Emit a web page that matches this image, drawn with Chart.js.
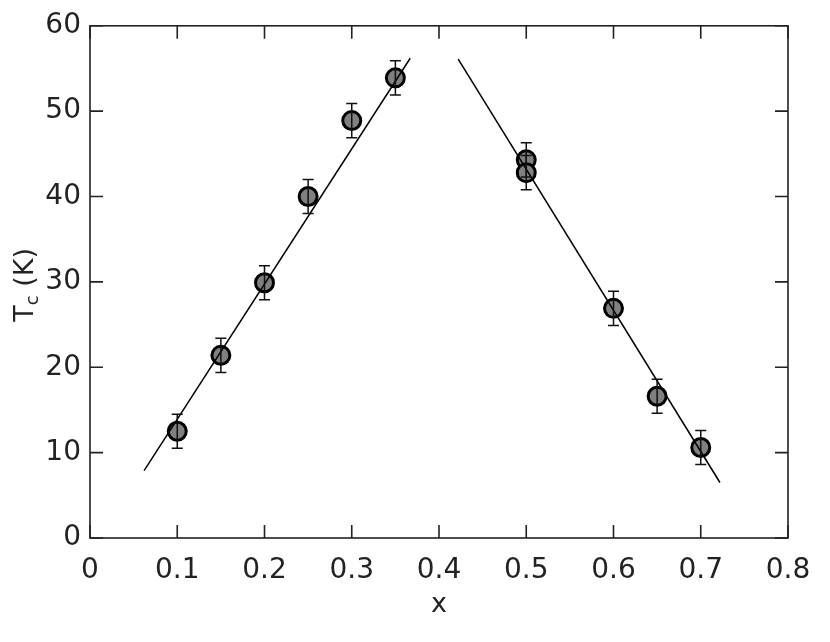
<!DOCTYPE html>
<html>
<head>
<meta charset="utf-8">
<script src="https://cdn.jsdelivr.net/npm/chart.js@4.4.0/dist/chart.umd.min.js"></script>
<style>
html, body { margin: 0; padding: 0; background: #fff; }
#wrap { width: 830px; height: 642px; }
</style>
</head>
<body>
<div id="wrap"><canvas id="tcChart" width="830" height="642"></canvas></div>
<script>
// measured points: doping x and Tc (K), with error bars
const xValues = [0.1, 0.15, 0.2, 0.25, 0.3, 0.35, 0.5, 0.5, 0.6, 0.65, 0.7];
const tcValues = [12.5, 21.4, 29.9, 40.0, 48.9, 53.9, 44.3, 42.8, 26.9, 16.6, 10.6];
const tcErrors = [2, 2, 2, 2, 2, 2, 2, 2, 2, 2, 2];

// straight-line guides, end points only
const leftFitX = [0.062, 0.367];
const leftFitY = [7.9, 56.2];
const rightFitX = [0.422, 0.722];
const rightFitY = [56.1, 6.5];

const xTickLabels = ['0', '0.1', '0.2', '0.3', '0.4', '0.5', '0.6', '0.7', '0.8'];
const yTickLabels = ['0', '10', '20', '30', '40', '50', '60'];

const INK = '#222';
const FONT = 'DejaVu Sans';

function toPoints(xs, ys) {
    return xs.map((x, i) => ({ x: x, y: ys[i] }));
}

/**
 * Error bars, frame, inward ticks and the y title (needs a subscript)
 */
const decorations = {
    id: 'decorations',
    afterDatasetsDraw(chart) {
        const ctx = chart.ctx;
        const xs = chart.scales.x;
        const ys = chart.scales.y;
        const area = chart.chartArea;

        ctx.save();
        ctx.strokeStyle = '#111';
        ctx.lineWidth = 1.5;
        // error bars
        xValues.forEach((x, i) => {
            const px = xs.getPixelForValue(x);
            const top = ys.getPixelForValue(tcValues[i] + tcErrors[i]);
            const bot = ys.getPixelForValue(tcValues[i] - tcErrors[i]);
            ctx.beginPath();
            ctx.moveTo(px, top);
            ctx.lineTo(px, bot);
            ctx.moveTo(px - 5.5, top);
            ctx.lineTo(px + 5.5, top);
            ctx.moveTo(px - 5.5, bot);
            ctx.lineTo(px + 5.5, bot);
            ctx.stroke();
        });

        // frame
        ctx.strokeStyle = INK;
        ctx.lineWidth = 1.6;
        ctx.strokeRect(area.left, area.top, area.right - area.left, area.bottom - area.top);

        // inward ticks on all four sides
        const tickLen = 13;
        ctx.beginPath();
        xs.ticks.forEach(t => {
            const px = xs.getPixelForValue(t.value);
            ctx.moveTo(px, area.bottom);
            ctx.lineTo(px, area.bottom - tickLen);
            ctx.moveTo(px, area.top);
            ctx.lineTo(px, area.top + tickLen);
        });
        ys.ticks.forEach(t => {
            const py = ys.getPixelForValue(t.value);
            ctx.moveTo(area.left, py);
            ctx.lineTo(area.left + tickLen, py);
            ctx.moveTo(area.right, py);
            ctx.lineTo(area.right - tickLen, py);
        });
        ctx.stroke();

        // y title: T_c (K)
        const big = '27px "' + FONT + '"';
        const small = '18px "' + FONT + '"';
        ctx.fillStyle = INK;
        ctx.textBaseline = 'alphabetic';
        ctx.textAlign = 'left';
        ctx.font = big;
        const wT = ctx.measureText('T').width;
        const wK = ctx.measureText(' (K)').width;
        ctx.font = small;
        const wc = ctx.measureText('c').width;
        const total = wT + wc + wK;
        ctx.translate(33, (area.top + area.bottom) / 2 + 3);
        ctx.rotate(-Math.PI / 2);
        let pos = -total / 2;
        ctx.font = big;
        ctx.fillText('T', pos, 0);
        pos += wT;
        ctx.font = small;
        ctx.fillText('c', pos, 5);
        pos += wc;
        ctx.font = big;
        ctx.fillText(' (K)', pos, 0);
        ctx.restore();
    }
};

const ctx = document.getElementById('tcChart');

new Chart(ctx, {
    type: 'scatter',
    data: {
        datasets: [
            {
                label: 'fit left',
                data: toPoints(leftFitX, leftFitY),
                showLine: true,
                borderColor: '#000',
                borderWidth: 1.5,
                pointRadius: 0,
                fill: false,
                order: 0
            },
            {
                label: 'fit right',
                data: toPoints(rightFitX, rightFitY),
                showLine: true,
                borderColor: '#000',
                borderWidth: 1.5,
                pointRadius: 0,
                fill: false,
                order: 0
            },
            {
                label: 'Tc',
                data: toPoints(xValues, tcValues),
                pointRadius: 9,
                pointBorderWidth: 3,
                backgroundColor: '#808080',
                borderColor: '#000',
                order: 1
            }
        ]
    },
    options: {
        responsive: false,
        animation: false,
        layout: { padding: { top: 24, right: 42, left: 0, bottom: 0 } },
        plugins: {
            legend: { display: false },
            tooltip: { enabled: false }
        },
        scales: {
            x: {
                type: 'linear',
                min: 0,
                max: 0.8,
                afterFit(scale) { scale.height = 104; },
                grid: { display: false, drawTicks: false },
                border: { display: false },
                ticks: {
                    stepSize: 0.1,
                    padding: 16,
                    color: INK,
                    font: { family: FONT, size: 28 },
                    callback: (v, i) => xTickLabels[i]
                },
                title: {
                    display: true,
                    text: 'x',
                    color: INK,
                    font: { family: FONT, size: 27 },
                    padding: { top: 0, bottom: 21 }
                }
            },
            y: {
                type: 'linear',
                min: 0,
                max: 60,
                afterFit(scale) { scale.width = 90; },
                grid: { display: false, drawTicks: false },
                border: { display: false },
                ticks: {
                    stepSize: 10,
                    padding: 9,
                    color: INK,
                    font: { family: FONT, size: 28 },
                    callback: (v, i) => yTickLabels[i]
                }
            }
        }
    },
    plugins: [decorations]
});
</script>
</body>
</html>
